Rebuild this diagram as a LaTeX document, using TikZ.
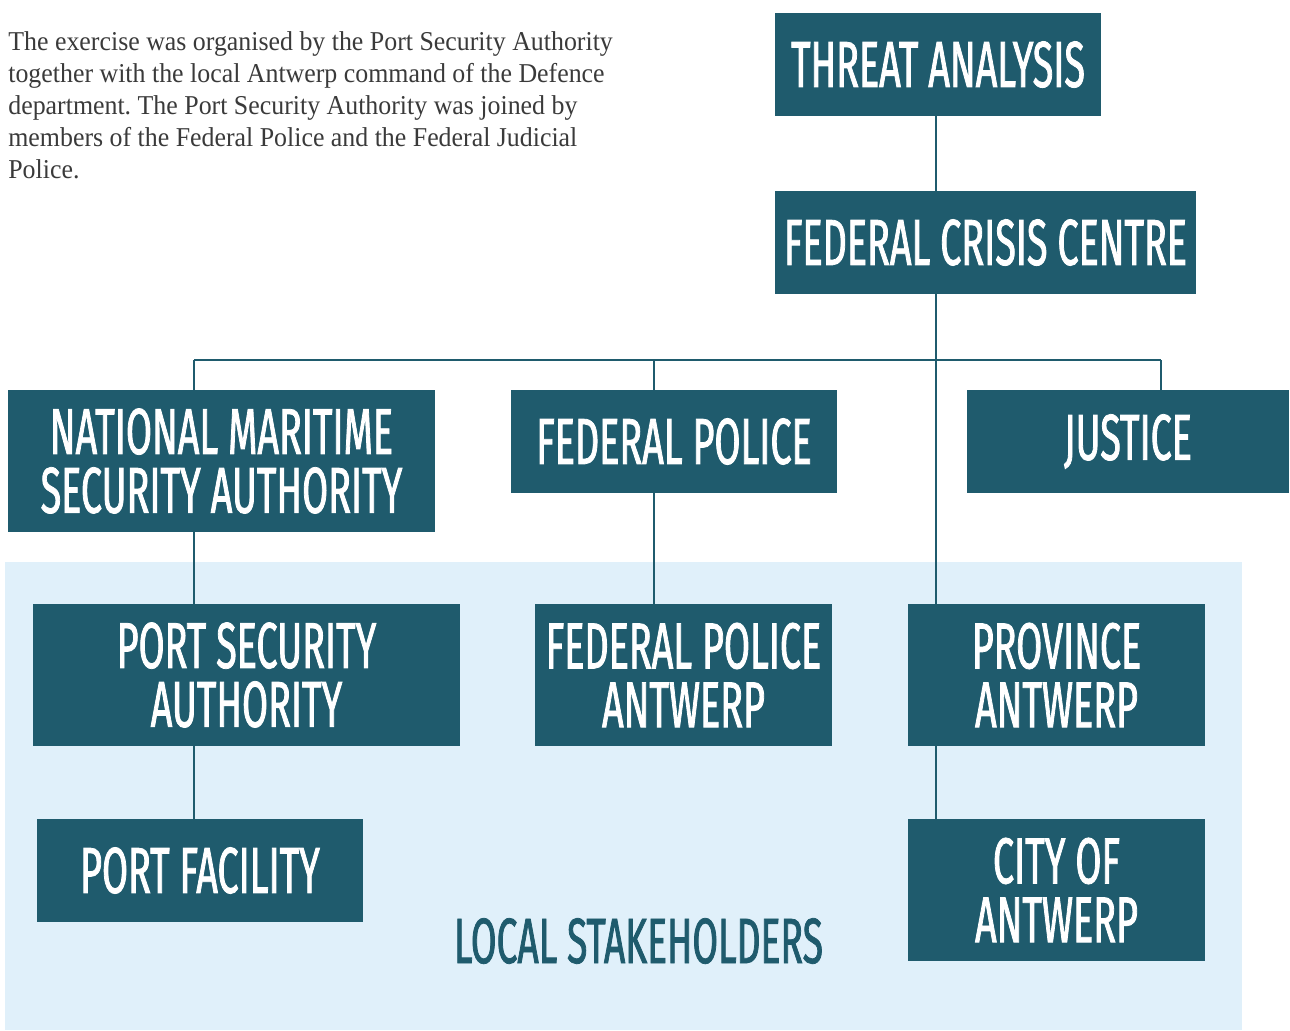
\documentclass[tikz,border=0pt]{standalone}
\usepackage{fontspec}
\setmainfont{Liberation Serif}
\newfontfamily\orgfont[FakeStretch=0.58, FakeBold=1.2]{Fira Sans}
\newfontfamily\notefont[FakeStretch=0.95]{Liberation Serif}
\usepackage{xcolor}
\usetikzlibrary{positioning}
\definecolor{orgteal}{HTML}{1F5B6D}
\definecolor{localblue}{HTML}{E0F0FA}
\definecolor{notegray}{HTML}{3A3A3A}
\frenchspacing

\tikzset{
  orgbox/.style={fill=orgteal, text=white, inner sep=0pt, align=center,
    font=\orgfont\fontsize{37}{33.5}\selectfont},
  link/.style={draw=orgteal, line width=1.2pt},
}

\begin{document}
\begin{tikzpicture}[x=0.02cm, y=-0.02cm]

                \def\px{0.02cm}

                \useasboundingbox (0,0) rectangle (1290,1030);

                % Local stakeholders area
                \fill[localblue] (5,562) rectangle (1242,1030);
                \node (local) at (638.5,941)
                {\orgfont\fontsize{36.5}{33}\selectfont\color{orgteal}LOCAL STAKEHOLDERS};

                % Note in the upper left corner
                \node (note) [anchor=north west, inner sep=0pt, align=left,
                  text=notegray, font=\notefont\fontsize{15.5}{18.2}\selectfont]
                  at (8,31)
                {The exercise was organised by the Port Security Authority\\
                 together with the local Antwerp command of the Defence\\
                 department. The Port Security Authority was joined by\\
                 members of the Federal Police and the Federal Judicial\\
                 Police.};

                % Columns of the connectors
                \coordinate (c1) at (194,360);
                \coordinate (c2) at (654,360);
                \coordinate (c3) at (936,360);
                \coordinate (c4) at (1161,360);

                \begin{scope}
                    \node (threat) [orgbox, minimum width=326*\px, minimum height=103*\px]
                      at (938,64.5) {THREAT ANALYSIS};
                    \node (crisis) [orgbox, minimum width=421*\px, minimum height=103*\px]
                      at (985.5,242.5) {FEDERAL CRISIS CENTRE};
                    \node (nmsa) [orgbox, minimum width=427*\px, minimum height=142*\px]
                      at (221.5,461) {NATIONAL MARITIME\\SECURITY AUTHORITY};
                    \node (fp) [orgbox, minimum width=326*\px, minimum height=103*\px]
                      at (674,441.5) {FEDERAL POLICE};
                    \node (justice) [orgbox, minimum width=322*\px, minimum height=103*\px]
                      at (1128,441.5) {JUSTICE};
                    \node (psa) [orgbox, minimum width=427*\px, minimum height=142*\px]
                      at (246.5,675) {PORT SECURITY\\AUTHORITY};
                    \node (fpa) [orgbox, minimum width=297*\px, minimum height=142*\px]
                      at (683.5,675) {FEDERAL POLICE\\ANTWERP};
                    \node (prov) [orgbox, minimum width=297*\px, minimum height=142*\px]
                      at (1056.5,675) {PROVINCE\\ANTWERP};
                    \node (pfac) [orgbox, minimum width=326*\px, minimum height=103*\px]
                      at (200,870.5) {PORT FACILITY};
                    \node (city) [orgbox, minimum width=297*\px, minimum height=142*\px]
                      at (1056.5,890) {CITY OF\\ANTWERP};
                \end{scope}

                \begin{scope}[link]
                    \draw (c1) -- (c4);
                    \draw (threat.south -| c3) -- (crisis.north -| c3);
                    \draw (crisis.south -| c3) -- (prov.north -| c3);
                    \draw (prov.south -| c3) -- (city.north -| c3);
                    \draw (c1) -- (nmsa.north -| c1);
                    \draw (nmsa.south -| c1) -- (psa.north -| c1);
                    \draw (psa.south -| c1) -- (pfac.north -| c1);
                    \draw (c2) -- (fp.north -| c2);
                    \draw (fp.south -| c2) -- (fpa.north -| c2);
                    \draw (c4) -- (justice.north -| c4);
                \end{scope}

                \end{tikzpicture}
\end{document}
